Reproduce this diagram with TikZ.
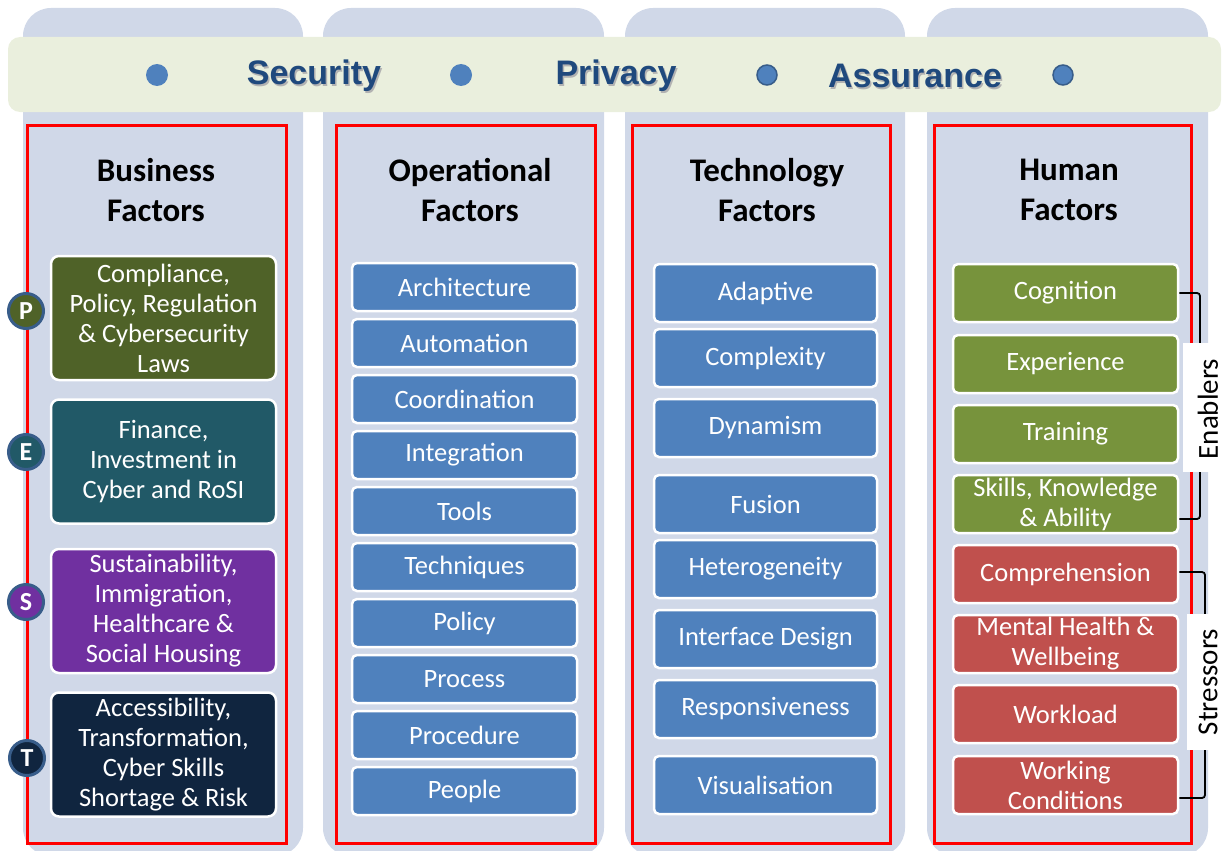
\documentclass[tikz,border=0pt]{standalone}
\usepackage{fontspec}
\setmainfont{Carlito}
\newfontfamily\bannerfont{Liberation Sans}
\usetikzlibrary{positioning,calc}
\definecolor{colbg}{HTML}{D0D8E8}
\definecolor{bannerbg}{HTML}{EAEFDD}
\definecolor{navytxt}{HTML}{1F497D}
\definecolor{dotblue}{HTML}{4F81BD}
\definecolor{dotborder}{HTML}{385D8A}
\definecolor{boxblue}{HTML}{4F81BD}
\definecolor{bOlive}{HTML}{4F6228}
\definecolor{bTeal}{HTML}{215967}
\definecolor{bPurple}{HTML}{7030A0}
\definecolor{bNavy}{HTML}{10253F}
\definecolor{hGreen}{HTML}{77933C}
\definecolor{hRed}{HTML}{C0504D}
\newcommand{\shadowtext}[1]{\makebox[0pt][l]{\hspace{1.5pt}\raisebox{-1.8pt}{\textcolor{black!30}{#1}}}#1}
\tikzset{
  colbox/.style={fill=colbg, draw=none, rounded corners=28pt},
  redframe/.style={draw=red, line width=3pt},
  coltitle/.style={font=\fontsize{33}{40}\selectfont\bfseries, align=center, text=black},
  bizbox/.style={draw=white, line width=2.5pt, rounded corners=8pt, minimum width=225pt, minimum height=124pt, text=white, align=center, font=\fontsize{26.5}{30}\selectfont, inner sep=0pt},
  opbox/.style={draw=white, line width=2.5pt, rounded corners=5pt, fill=boxblue, minimum width=225pt, minimum height=48pt, text=white, align=center, font=\fontsize{26.5}{30}\selectfont, inner sep=0pt},
  techbox/.style={opbox, minimum width=223pt, minimum height=58pt},
  humbox/.style={opbox, minimum width=225pt, minimum height=58pt},
  letter/.style={circle, draw=dotborder, line width=3pt, minimum size=35pt, inner sep=0pt, text=white, font=\fontsize{26}{26}\selectfont\bfseries},
  dot/.style={circle, fill=dotblue, minimum size=22pt, inner sep=0pt},
  bannertxt/.style={font=\fontsize{34}{34}\selectfont\bannerfont\bfseries, text=navytxt},
  bracket/.style={draw=black, line width=1.8pt, rounded corners=3pt},
  sidelabel/.style={fill=white, rotate=90, font=\fontsize{29}{29}\selectfont, text=black, inner sep=0pt},
}
\begin{document}
\begin{tikzpicture}[x=1pt, y=-1pt]
\useasboundingbox (0,0) rectangle (1223,851);
% columns
\fill[colbox] (23,8) rectangle (303,856);
\fill[colbox] (323,8) rectangle (604,856);
\fill[colbox] (625,8) rectangle (905,856);
\fill[colbox] (927,8) rectangle (1208,856);
% banner
\fill[bannerbg, rounded corners=12pt] (8,37) rectangle (1221,112);
\node[dot] (d1) at (157,75) {};
\node[dot] (d2) at (461,75) {};
\node[dot, draw=dotborder, line width=1.5pt, minimum size=20pt] (d3) at (767,75) {};
\node[dot, draw=dotborder, line width=1.5pt, minimum size=20pt] (d4) at (1063,75) {};
\node[bannertxt] (sec) at (314,77) {\shadowtext{Security}};
\node[bannertxt] (pri) at (616,77) {\shadowtext{Privacy}};
\node[bannertxt] (ass) at (915,77) {\shadowtext{Assurance}};
% red frames
\draw[redframe] (27,125) rectangle (286,843);
\draw[redframe] (336,125) rectangle (595,843);
\draw[redframe] (632,125) rectangle (890,843);
\draw[redframe] (934,125) rectangle (1191,843);
% titles
\node[coltitle] (t1) at (156,190) {Business\\Factors};
\node[coltitle] (t2) at (470,190) {Operational\\Factors};
\node[coltitle] (t3) at (767,190) {Technology\\Factors};
\node[coltitle] (t4) at (1069,190) {Human\\Factors};
% business boxes
\node[bizbox, fill=bOlive] (b1) at (163.5,318) {Compliance,\\Policy, Regulation\\\& Cybersecurity\\Laws};
\node[bizbox, fill=bTeal] (b2) at (163.5,461.5) {Finance,\\Investment in\\Cyber and RoSI};
\node[bizbox, fill=bPurple] (b3) at (163.5,611) {Sustainability,\\Immigration,\\Healthcare \&\\Social Housing};
\node[bizbox, fill=bNavy] (b4) at (163.5,754.5) {Accessibility,\\Transformation,\\Cyber Skills\\Shortage \& Risk};
\node[letter, fill=bOlive] (lp) at (26,311) {P};
\node[letter, fill=bTeal] (le) at (26,452) {E};
\node[letter, fill=bPurple] (ls) at (26,602) {S};
\node[letter, fill=bNavy] (lt) at (27,758) {T};
% operational boxes
\node[opbox] (o1) at (464.5,287) {Architecture};
\node[opbox] (o2) at (464.5,343) {Automation};
\node[opbox] (o3) at (464.5,399) {Coordination};
\node[opbox] (o4) at (464.5,455) {Integration};
\node[opbox] (o5) at (464.5,511) {Tools};
\node[opbox] (o6) at (464.5,567) {Techniques};
\node[opbox] (o7) at (464.5,623) {Policy};
\node[opbox] (o8) at (464.5,679) {Process};
\node[opbox] (o9) at (464.5,735) {Procedure};
\node[opbox] (o10) at (464.5,791) {People};
% technology boxes
\node[techbox] (te1) at (765.5,293) {Adaptive};
\node[techbox] (te2) at (765.5,358) {Complexity};
\node[techbox] (te3) at (765.5,428) {Dynamism};
\node[techbox] (te4) at (765.5,504) {Fusion};
\node[techbox] (te5) at (765.5,569) {Heterogeneity};
\node[techbox] (te6) at (765.5,639) {Interface Design};
\node[techbox] (te7) at (765.5,709) {Responsiveness};
\node[techbox] (te8) at (765.5,785) {Visualisation};
% human boxes
\node[humbox, fill=hGreen] (h1) at (1065.5,293) {Cognition};
\node[humbox, fill=hGreen] (h2) at (1065.5,364) {Experience};
\node[humbox, fill=hGreen] (h3) at (1065.5,434) {Training};
\node[humbox, fill=hGreen] (h4) at (1065.5,504) {Skills, Knowledge\\\& Ability};
\node[humbox, fill=hRed] (h5) at (1065.5,574) {Comprehension};
\node[humbox, fill=hRed] (h6) at (1065.5,644) {Mental Health \&\\Wellbeing};
\node[humbox, fill=hRed] (h7) at (1065.5,714) {Workload};
\node[humbox, fill=hRed] (h8) at (1065.5,785) {Working\\Conditions};
% brackets
\coordinate (eb) at ($(h4.east)+(0,15)$);
\coordinate (sb) at ($(h8.east)+(0,13)$);
\draw[bracket] (h1.east) -- (1200,293) -- (1200,519) -- (eb);
\draw[bracket] ($(h5.east)+(0,-2)$) -- (1205,572) -- (1205,798) -- (sb);
\fill[white] (1183,343) rectangle (1223,472);
\fill[white] (1187,614) rectangle (1223,750);
\node[sidelabel] (en) at (1208,409) {Enablers};
\node[sidelabel] (st) at (1208,682) {Stressors};
\end{tikzpicture}
\end{document}
